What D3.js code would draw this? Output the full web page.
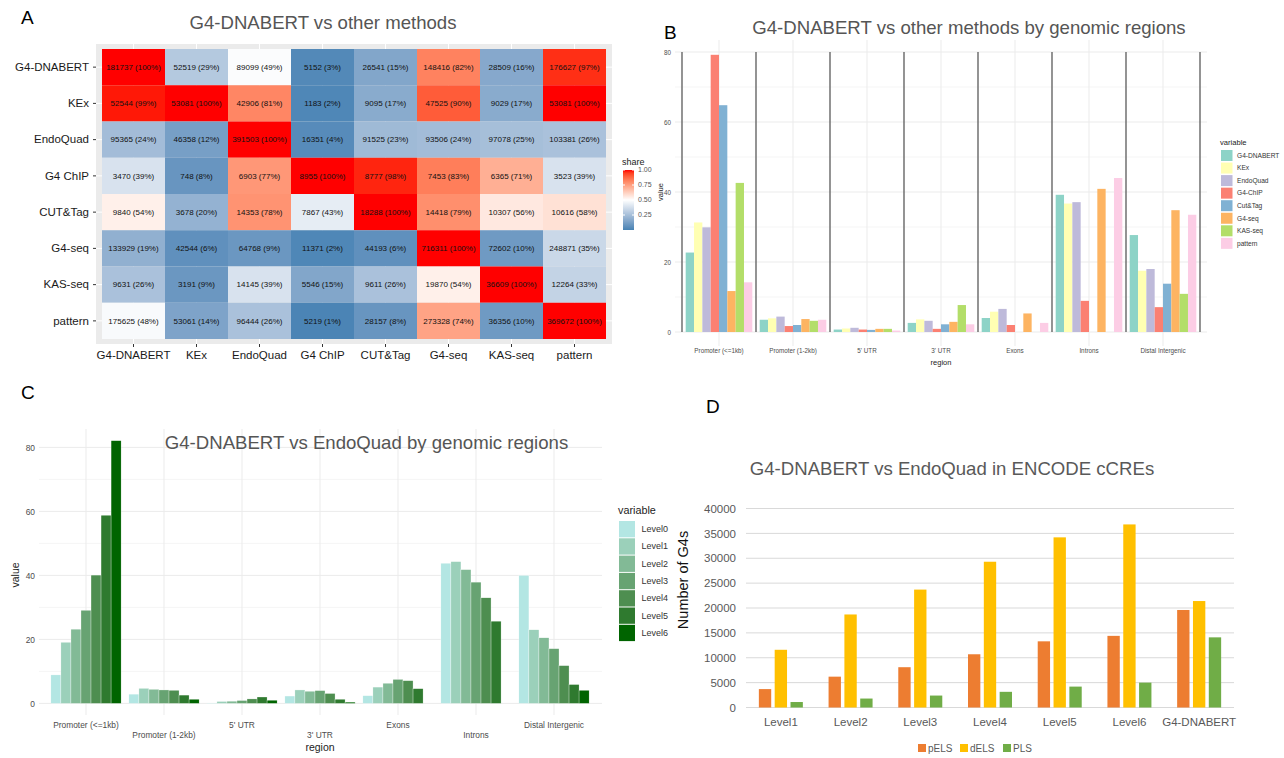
<!DOCTYPE html>
<html>
<head>
<meta charset="utf-8">
<script src="https://cdn.jsdelivr.net/npm/d3@7"></script>
<style>
  body { margin: 0; background: #fff; }
  svg { display: block; font-family: "Liberation Sans", Arial, sans-serif; }
</style>
</head>
<body>
<svg id="fig" width="1284" height="758"></svg>
<script>
// ---- panel A data: overlap counts and shares (rows = query, cols = reference)
const methods = ["G4-DNABERT", "KEx", "EndoQuad", "G4 ChIP", "CUT&Tag", "G4-seq", "KAS-seq", "pattern"];
const overlapCounts = [
  [181737, 52519, 89099, 5152, 26541, 148416, 28509, 176627],
  [52544, 53081, 42906, 1183, 9095, 47525, 9029, 53081],
  [95365, 46358, 391503, 16351, 91525, 93506, 97078, 103381],
  [3470, 748, 6903, 8955, 8777, 7453, 6365, 3523],
  [9840, 3678, 14353, 7867, 18288, 14418, 10307, 10616],
  [133929, 42544, 64768, 11371, 44193, 716311, 72602, 248871],
  [9631, 3191, 14145, 5546, 9611, 19870, 36609, 12264],
  [175625, 53061, 96444, 5219, 28157, 273328, 36356, 369672]
];
const overlapPct = [
  [100, 29, 49, 3, 15, 82, 16, 97],
  [99, 100, 81, 2, 17, 90, 17, 100],
  [24, 12, 100, 4, 23, 24, 25, 26],
  [39, 8, 77, 100, 98, 83, 71, 39],
  [54, 20, 78, 43, 100, 79, 56, 58],
  [19, 6, 9, 2, 6, 100, 10, 35],
  [26, 9, 39, 15, 26, 54, 100, 33],
  [48, 14, 26, 1, 8, 74, 10, 100]
];
const shareTicks = [0.25, 0.5, 0.75, 1.0];

// ---- panel B data: % of G4s per genomic region, per method
const regions = ["Promoter (<=1kb)", "Promoter (1-2kb)", "5' UTR", "3' UTR", "Exons", "Introns", "Distal Intergenic"];
const methodsB = ["G4-DNABERT", "KEx", "EndoQuad", "G4-ChIP", "Cut&Tag", "G4-seq", "KAS-seq", "pattern"];
const methodColors = ["#8DD3C7", "#FFFFB3", "#BEBADA", "#FB8072", "#80B1D3", "#FDB462", "#B3DE69", "#FCCDE5"];
const regG4DNABERT = [22.7, 3.5, 0.7, 2.6, 4.0, 39.2, 27.7];
const regKEx       = [31.3, 3.9, 1.0, 3.6, 5.8, 36.7, 17.5];
const regEndoQuad  = [29.9, 4.4, 1.2, 3.2, 6.6, 37.1, 18.0];
const regG4ChIP    = [79.2, 1.7, 0.7, 0.9, 2.0, 8.9, 7.1];
const regCutTag    = [64.8, 2.0, 0.6, 2.2, 0, 0, 13.8];
const regG4seq     = [11.7, 3.7, 0.9, 2.9, 5.3, 40.9, 34.8];
const regKASseq    = [42.6, 3.2, 0.9, 7.7, 0, 0, 10.9];
const regPattern   = [14.2, 3.5, 0.4, 2.2, 2.6, 44.0, 33.5];
const seriesB = [regG4DNABERT, regKEx, regEndoQuad, regG4ChIP, regCutTag, regG4seq, regKASseq, regPattern];

// ---- panel C data: EndoQuad levels per genomic region
const levels = ["Level0", "Level1", "Level2", "Level3", "Level4", "Level5", "Level6"];
const levelColors = ["#B3E6E3", "#9BD0BA", "#82BA96", "#67A372", "#4E8E50", "#2F7A2F", "#006400"];
const lvl0 = [8.9, 2.9, 0.1, 2.3, 2.4, 43.8, 40.0];
const lvl1 = [19.1, 4.7, 0.6, 4.2, 5.1, 44.3, 23.0];
const lvl2 = [23.2, 4.4, 0.7, 3.8, 6.3, 41.8, 20.5];
const lvl3 = [29.1, 4.2, 0.9, 4.0, 7.5, 37.9, 17.1];
const lvl4 = [40.1, 4.1, 1.4, 3.1, 7.1, 33.0, 11.8];
const lvl5 = [58.8, 2.6, 2.0, 1.3, 4.6, 25.7, 5.9];
const lvl6 = [82.1, 1.3, 1.0, 0.4, 0, 0, 4.1];
const seriesC = [lvl0, lvl1, lvl2, lvl3, lvl4, lvl5, lvl6];

// ---- panel D data: G4s in ENCODE cCREs
const cCats = ["Level1", "Level2", "Level3", "Level4", "Level5", "Level6", "G4-DNABERT"];
const cre = ["pELS", "dELS", "PLS"];
const creColors = ["#ED7D31", "#FFC000", "#70AD47"];
const pELS = [3700, 6200, 8100, 10700, 13300, 14400, 19600];
const dELS = [11600, 18700, 23700, 29300, 34200, 36800, 21400];
const PLS  = [1100, 1800, 2400, 3150, 4200, 5000, 14100];
const seriesD = [pELS, dELS, PLS];

const svg = d3.select("#fig");
svg.append("rect").attr("width", 1284).attr("height", 758).attr("fill", "#fff");

const titleColor = "#555";
const panelLetter = (x, y, t) => svg.append("text").attr("x", x).attr("y", y)
  .attr("font-size", 19).attr("fill", "#000").text(t);

// =================== A: heatmap ===================
{
  const g = svg.append("g");
  const x = d3.scaleBand().domain(methods).range([102, 606]);
  const y = d3.scaleBand().domain(methods).range([49, 339]);
  const color = d3.scaleLinear().domain([0, 0.5, 1])
    .range(["steelblue", "white", "red"]).interpolate(d3.interpolateLab);

  g.append("rect").attr("x", 96).attr("y", 44).attr("width", 516).attr("height", 300).attr("fill", "#EBEBEB");
  g.selectAll(".vg").data(methods).join("line")
    .attr("x1", d => x(d) + x.bandwidth() / 2).attr("x2", d => x(d) + x.bandwidth() / 2)
    .attr("y1", 44).attr("y2", 344).attr("stroke", "#fff").attr("stroke-width", 1);
  g.selectAll(".hg").data(methods).join("line")
    .attr("y1", d => y(d) + y.bandwidth() / 2).attr("y2", d => y(d) + y.bandwidth() / 2)
    .attr("x1", 96).attr("x2", 612).attr("stroke", "#fff").attr("stroke-width", 1);

  const cells = methods.flatMap((r, i) => methods.map((c, j) =>
    ({ r, c, n: overlapCounts[i][j], p: overlapPct[i][j] })));
  g.selectAll("rect.cell").data(cells).join("rect").attr("class", "cell")
    .attr("x", d => x(d.c)).attr("y", d => y(d.r))
    .attr("width", x.bandwidth()).attr("height", y.bandwidth())
    .attr("fill", d => color(d.p / 100));
  g.selectAll("text.lab").data(cells).join("text").attr("class", "lab")
    .attr("x", d => x(d.c) + x.bandwidth() / 2).attr("y", d => y(d.r) + y.bandwidth() / 2)
    .attr("dy", "0.35em").attr("text-anchor", "middle").attr("font-size", 8).attr("fill", "#111")
    .text(d => `${d.n} (${d.p}%)`);

  const ax = g.append("g").attr("transform", "translate(96,0)").call(d3.axisLeft(y).tickSize(3).tickPadding(4));
  const bx = g.append("g").attr("transform", "translate(0,344)").call(d3.axisBottom(x).tickSize(3).tickPadding(4));
  [ax, bx].forEach(a => {
    a.select(".domain").remove();
    a.selectAll("line").attr("stroke", "#333");
    a.selectAll("text").attr("font-size", 11.5).attr("fill", "#1a1a1a").attr("font-family", "Liberation Sans, Arial");
  });

  svg.append("text").attr("x", 323).attr("y", 28.5).attr("text-anchor", "middle")
    .attr("font-size", 18.6).attr("fill", titleColor).text("G4-DNABERT vs other methods");

  // colour bar legend
  const lg = svg.append("g");
  const grad = svg.append("defs").append("linearGradient").attr("id", "shareGrad")
    .attr("x1", 0).attr("y1", 1).attr("x2", 0).attr("y2", 0);
  d3.range(0, 1.0001, 0.05).forEach(t => grad.append("stop")
    .attr("offset", t).attr("stop-color", color(t)));
  const sy = d3.scaleLinear().domain([0, 1]).range([230, 170]);
  lg.append("text").attr("x", 622).attr("y", 165).attr("font-size", 9).attr("fill", "#222").text("share");
  lg.append("rect").attr("x", 623).attr("y", sy(1)).attr("width", 11).attr("height", sy(0) - sy(1))
    .attr("fill", "url(#shareGrad)");
  lg.selectAll("text.tk").data(shareTicks).join("text").attr("class", "tk")
    .attr("x", 638).attr("y", d => sy(d)).attr("dy", "0.35em")
    .attr("font-size", 7).attr("fill", "#555").text(d => d.toFixed(2));
  lg.selectAll("line.tk").data(shareTicks).join("line").attr("class", "tk")
    .attr("x1", 623).attr("x2", 625).attr("y1", d => sy(d)).attr("y2", d => sy(d)).attr("stroke", "#fff");
  lg.selectAll("line.tk2").data(shareTicks).join("line").attr("class", "tk2")
    .attr("x1", 632).attr("x2", 634).attr("y1", d => sy(d)).attr("y2", d => sy(d)).attr("stroke", "#fff");
}
panelLetter(21, 24, "A");

// =================== B: grouped bars by region ===================
{
  const g = svg.append("g");
  const x = d3.scaleBand().domain(regions).range([682, 1200]);
  const xi = d3.scaleBand().domain(methodsB).range([x.bandwidth() * 0.05, x.bandwidth() * 0.95]);
  const y = d3.scaleLinear().domain([0, 80]).range([332, 52]);

  g.selectAll(".minor").data([10, 30, 50, 70]).join("line")
    .attr("x1", 675).attr("x2", 1207).attr("y1", d => y(d)).attr("y2", d => y(d))
    .attr("stroke", "#F2F2F2").attr("stroke-width", 0.8);
  g.selectAll(".major").data([0, 20, 40, 60, 80]).join("line")
    .attr("x1", 675).attr("x2", 1207).attr("y1", d => y(d)).attr("y2", d => y(d))
    .attr("stroke", "#EBEBEB").attr("stroke-width", 1);
  g.selectAll(".vmaj").data(regions).join("line")
    .attr("x1", d => x(d) + x.bandwidth() / 2).attr("x2", d => x(d) + x.bandwidth() / 2)
    .attr("y1", 40).attr("y2", 346).attr("stroke", "#EBEBEB").attr("stroke-width", 1);

  const bars = methodsB.flatMap((m, i) => regions.map((r, j) => ({ m, r, v: seriesB[i][j], c: methodColors[i] })));
  g.selectAll("rect.bar").data(bars).join("rect").attr("class", "bar")
    .attr("x", d => x(d.r) + xi(d.m)).attr("width", xi.bandwidth())
    .attr("y", d => y(d.v)).attr("height", d => y(0) - y(d.v))
    .attr("fill", d => d.c);

  // region separators
  const seps = regions.map(r => x(r)).concat([x.range()[1]]);
  g.selectAll(".sep").data(seps).join("line")
    .attr("x1", d => d).attr("x2", d => d).attr("y1", y(80)).attr("y2", y(0))
    .attr("stroke", "#666").attr("stroke-width", 1.4);

  const ay = g.append("g").attr("transform", "translate(673,0)")
    .call(d3.axisLeft(y).tickValues([0, 20, 40, 60, 80]).tickSize(0).tickPadding(2));
  const ax = g.append("g").attr("transform", "translate(0,346)")
    .call(d3.axisBottom(x).tickSize(0).tickPadding(3));
  [ay, ax].forEach(a => {
    a.select(".domain").remove();
    a.selectAll("text").attr("font-size", 6.3).attr("fill", "#4D4D4D").attr("font-family", "Liberation Sans, Arial");
  });
  g.append("text").attr("transform", "translate(663,192) rotate(-90)").attr("text-anchor", "middle")
    .attr("font-size", 7.5).attr("fill", "#222").text("value");
  g.append("text").attr("x", 941).attr("y", 365).attr("text-anchor", "middle")
    .attr("font-size", 7.5).attr("fill", "#222").text("region");

  svg.append("text").attr("x", 969).attr("y", 33.5).attr("text-anchor", "middle")
    .attr("font-size", 18.6).attr("fill", titleColor).text("G4-DNABERT vs other methods by genomic regions");

  const lg = g.append("g");
  lg.append("text").attr("x", 1220).attr("y", 145).attr("font-size", 7.6).attr("fill", "#222").text("variable");
  lg.selectAll("rect").data(methodsB).join("rect")
    .attr("x", 1221).attr("y", (d, i) => 150 + i * 12.55).attr("width", 11.5).attr("height", 11)
    .attr("fill", (d, i) => methodColors[i]);
  lg.selectAll("text.k").data(methodsB).join("text").attr("class", "k")
    .attr("x", 1237).attr("y", (d, i) => 155.5 + i * 12.55).attr("dy", "0.35em")
    .attr("font-size", 6.6).attr("fill", "#333").text(d => d);
}
panelLetter(664, 39, "B");

// =================== C: EndoQuad levels by region ===================
{
  const g = svg.append("g");
  const x = d3.scaleBand().domain(regions).range([47, 593]);
  const xi = d3.scaleBand().domain(levels).range([x.bandwidth() * 0.05, x.bandwidth() * 0.95]);
  const y = d3.scaleLinear().domain([0, 80]).range([703.4, 447.4]);

  g.selectAll(".minor").data([10, 30, 50, 70]).join("line")
    .attr("x1", 39).attr("x2", 602).attr("y1", d => y(d)).attr("y2", d => y(d))
    .attr("stroke", "#F2F2F2").attr("stroke-width", 0.8);
  g.selectAll(".major").data([0, 20, 40, 60, 80]).join("line")
    .attr("x1", 39).attr("x2", 602).attr("y1", d => y(d)).attr("y2", d => y(d))
    .attr("stroke", "#EBEBEB").attr("stroke-width", 1);
  g.selectAll(".vmaj").data(regions).join("line")
    .attr("x1", d => x(d) + x.bandwidth() / 2).attr("x2", d => x(d) + x.bandwidth() / 2)
    .attr("y1", 429).attr("y2", 715).attr("stroke", "#EBEBEB").attr("stroke-width", 1);

  const bars = levels.flatMap((l, i) => regions.map((r, j) => ({ l, r, v: seriesC[i][j], c: levelColors[i] })));
  g.selectAll("rect.bar").data(bars.filter(d => d.v > 0)).join("rect").attr("class", "bar")
    .attr("x", d => x(d.r) + xi(d.l)).attr("width", xi.bandwidth())
    .attr("y", d => y(d.v)).attr("height", d => y(0) - y(d.v))
    .attr("fill", d => d.c).attr("stroke", "#fff").attr("stroke-width", 0.3);

  const ay = g.append("g").attr("transform", "translate(37,0)")
    .call(d3.axisLeft(y).tickValues([0, 20, 40, 60, 80]).tickSize(0).tickPadding(2));
  const ax = g.append("g").attr("transform", "translate(0,718)")
    .call(d3.axisBottom(x).tickSize(0).tickPadding(4));
  [ay, ax].forEach(a => {
    a.select(".domain").remove();
    a.selectAll("text").attr("font-size", 8.4).attr("fill", "#4D4D4D").attr("font-family", "Liberation Sans, Arial");
  });
  ax.selectAll(".tick text").attr("dy", (d, i) => i % 2 ? "1.95em" : "0.71em");
  g.append("text").attr("transform", "translate(19,575) rotate(-90)").attr("text-anchor", "middle")
    .attr("font-size", 10.5).attr("fill", "#222").text("value");
  g.append("text").attr("x", 320).attr("y", 751).attr("text-anchor", "middle")
    .attr("font-size", 10.5).attr("fill", "#222").text("region");

  svg.append("text").attr("x", 366.5).attr("y", 449).attr("text-anchor", "middle")
    .attr("font-size", 18.6).attr("fill", titleColor).text("G4-DNABERT vs EndoQuad by genomic regions");

  const lg = g.append("g");
  lg.append("text").attr("x", 618).attr("y", 514).attr("font-size", 10.8).attr("fill", "#222").text("variable");
  lg.selectAll("rect").data(levels).join("rect")
    .attr("x", 619).attr("y", (d, i) => 521 + i * 17.3).attr("width", 16).attr("height", 16.3)
    .attr("fill", (d, i) => levelColors[i]);
  lg.selectAll("text.k").data(levels).join("text").attr("class", "k")
    .attr("x", 641.5).attr("y", (d, i) => 529 + i * 17.3).attr("dy", "0.35em")
    .attr("font-size", 9).attr("fill", "#333").text(d => d);
}
panelLetter(21, 399, "C");

// =================== D: ENCODE cCREs ===================
{
  const g = svg.append("g");
  const x = d3.scaleBand().domain(cCats).range([746, 1234]);
  const bw = x.bandwidth();
  const xi = d3.scaleBand().domain(cre).range([bw / 2 - 22, bw / 2 + 22]).paddingInner(0.22);
  const y = d3.scaleLinear().domain([0, 40000]).range([707.5, 508.5]);
  const ticks = d3.range(0, 40001, 5000);

  g.selectAll(".grid").data(ticks).join("line")
    .attr("x1", 746).attr("x2", 1234).attr("y1", d => y(d)).attr("y2", d => y(d))
    .attr("stroke", "#D9D9D9").attr("stroke-width", 1);

  const bars = cre.flatMap((k, i) => cCats.map((c, j) => ({ k, c, v: seriesD[i][j], col: creColors[i] })));
  g.selectAll("rect.bar").data(bars).join("rect").attr("class", "bar")
    .attr("x", d => x(d.c) + xi(d.k)).attr("width", xi.bandwidth())
    .attr("y", d => y(d.v)).attr("height", d => y(0) - y(d.v))
    .attr("fill", d => d.col);

  const ay = g.append("g").attr("transform", "translate(736,0)")
    .call(d3.axisLeft(y).tickValues(ticks).tickFormat(d3.format("d")).tickSize(0).tickPadding(0));
  const ax = g.append("g").attr("transform", "translate(0,708)")
    .call(d3.axisBottom(x).tickSize(0).tickPadding(10));
  [ay, ax].forEach(a => {
    a.select(".domain").remove();
    a.selectAll("text").attr("font-size", 11.5).attr("fill", "#595959").attr("font-family", "Liberation Sans, Arial");
  });
  g.append("text").attr("transform", "translate(688,580) rotate(-90)").attr("text-anchor", "middle")
    .attr("font-size", 14.5).attr("fill", "#111").text("Number of G4s");

  svg.append("text").attr("x", 952).attr("y", 474.5).attr("text-anchor", "middle")
    .attr("font-size", 18.6).attr("fill", "#595959").text("G4-DNABERT vs EndoQuad in ENCODE cCREs");

  const lx = [918, 960, 1003];
  const lg = g.append("g");
  lg.selectAll("rect").data(cre).join("rect")
    .attr("x", (d, i) => lx[i]).attr("y", 744).attr("width", 8).attr("height", 8)
    .attr("fill", (d, i) => creColors[i]);
  lg.selectAll("text").data(cre).join("text")
    .attr("x", (d, i) => lx[i] + 10).attr("y", 748).attr("dy", "0.35em")
    .attr("font-size", 10).attr("fill", "#595959").text(d => d);
}
panelLetter(706, 413, "D");
</script>
</body>
</html>
